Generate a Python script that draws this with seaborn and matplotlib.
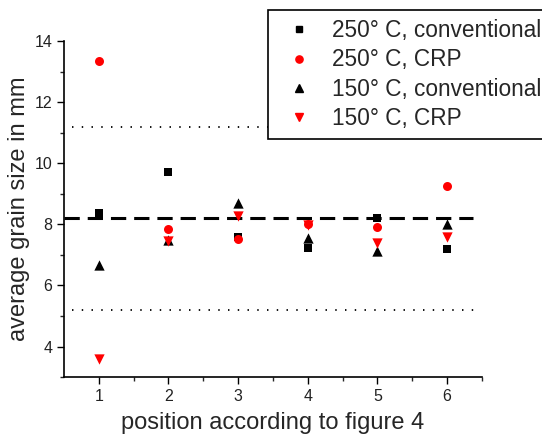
import matplotlib
matplotlib.use("Agg")
import matplotlib.pyplot as plt
import seaborn as sns
import pandas as pd
from matplotlib.lines import Line2D

positions = [1, 2, 3, 4, 5, 6]
s250_conv = [8.37, 9.73, 7.58, 7.24, 8.20, 7.19]
s250_crp = [13.36, 7.85, 7.52, 8.00, 7.93, 9.24]
s150_conv = [6.67, 7.49, 8.71, 7.57, 7.13, 8.02]
s150_crp = [3.59, 7.47, 8.29, 7.97, 7.40, 7.58]
series_names = ["250° C, conventional", "250° C, CRP", "150° C, conventional", "150° C, CRP"]
mean_level = 8.2
band_levels = [11.2, 5.2]

rows = []
for name, vals in zip(series_names, [s250_conv, s250_crp, s150_conv, s150_crp]):
    for p, v in zip(positions, vals):
        rows.append({"pos": p, "size": v, "series": name})
df = pd.DataFrame(rows)

sns.set_style("ticks")
plt.rcParams["font.family"] = ["Liberation Sans", "DejaVu Sans"]

fig = plt.figure(figsize=(5.42, 4.37), dpi=100)
ax = fig.add_axes([0.118, 0.137, 0.771, 0.769])

colors = {series_names[0]: "black", series_names[1]: "#ff0000",
          series_names[2]: "black", series_names[3]: "#ff0000"}
markers = {series_names[0]: "s", series_names[1]: "o",
           series_names[2]: "^", series_names[3]: "v"}
sizes = {series_names[0]: 30, series_names[1]: 42,
         series_names[2]: 55, series_names[3]: 55}

for name in series_names:
    sub = df[df["series"] == name]
    sns.scatterplot(data=sub, x="pos", y="size", color=colors[name],
                    marker=markers[name], s=sizes[name], linewidth=0,
                    ax=ax, legend=False, zorder=3)

ax.axhline(mean_level, xmin=0, xmax=0.98, color="black", lw=2.2,
           dashes=(5, 2.6), zorder=2)
for lv in band_levels:
    ax.axhline(lv, xmin=0.02, xmax=0.99, color="black", lw=1.3,
               dashes=(0.8, 4.6), zorder=2)

ax.set_xlim(0.5, 6.5)
ax.set_ylim(3, 14)
ax.set_xticks(positions)
ax.set_xticks([1.5, 2.5, 3.5, 4.5, 5.5, 6.5], minor=True)
ax.set_yticks([4, 6, 8, 10, 12, 14])
ax.set_yticks([3, 5, 7, 9, 11, 13], minor=True)
ax.tick_params(axis="both", which="major", length=5, width=1, labelsize=11.5,
               direction="out", color="black", labelcolor="#222222")
ax.tick_params(axis="both", which="minor", length=3, width=1, direction="out")
for side in ["top", "right"]:
    ax.spines[side].set_visible(False)
for side in ["left", "bottom"]:
    ax.spines[side].set_linewidth(1.2)
    ax.spines[side].set_color("black")

ax.set_xlabel("position according to figure 4", fontsize=17, labelpad=6)
ax.set_ylabel("average grain size in mm", fontsize=17, labelpad=3)

handles = [Line2D([], [], linestyle="none", marker=markers[n], color=colors[n],
                  markersize=5.2 if markers[n] != "s" else 4.2) for n in series_names]
leg = fig.legend(handles, series_names, loc="upper left",
                 bbox_to_anchor=(0.494, 0.977), fontsize=16.3, frameon=True,
                 fancybox=False, edgecolor="black", framealpha=1,
                 handlelength=2.0, handletextpad=0.45, borderpad=0.4,
                 labelspacing=0.28, borderaxespad=0)
leg.get_frame().set_linewidth(1.2)

fig.savefig("out.png", dpi=100)
